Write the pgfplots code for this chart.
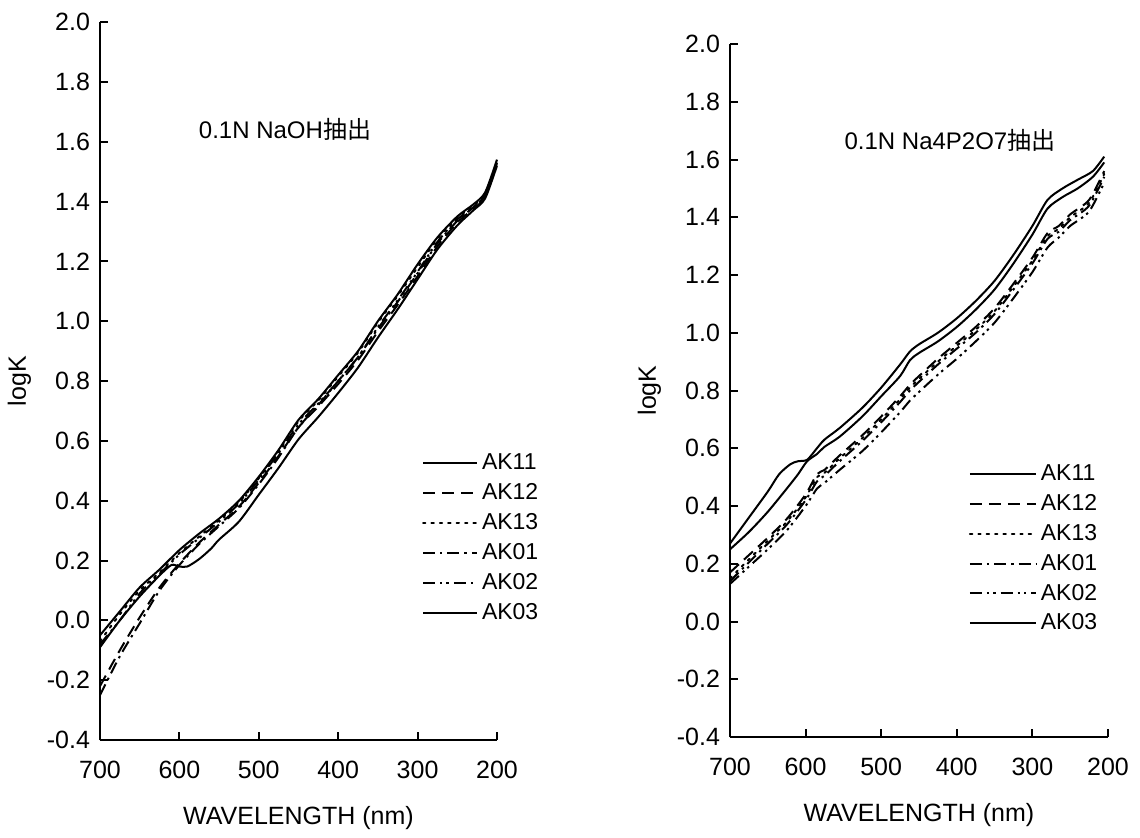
\documentclass[border=0pt]{standalone}
\usepackage{fontspec}
\setmainfont{Liberation Sans}
\newfontfamily\cjk{Noto Sans CJK JP}
\usepackage{pgfplots}
\pgfplotsset{compat=1.18}

\pgfplotsset{
  myax/.style={
    scale only axis,
    x dir=reverse, xmin=200, xmax=700, ymin=-0.4, ymax=2.0,
    xtick={200,300,400,500,600,700},
    ytick={-0.4,-0.2,0,0.2,0.4,0.6,0.8,1.0,1.2,1.4,1.6,1.8,2.0},
    axis x line*=bottom, axis y line*=left,
    axis line style={-, line width=1.4pt, black},
    tick align=inside, major tick length=4pt,
    tick style={line width=1pt, black},
    yticklabel style={font=\fontsize{12.5}{14}\selectfont, xshift=-1.5pt, /pgf/number format/.cd, fixed, fixed zerofill, precision=1, assume math mode=true},
    xticklabel style={font=\fontsize{12.5}{14}\selectfont, yshift=-7pt, /pgf/number format/.cd, assume math mode=true},
    label style={font=\fontsize{12.5}{14}\selectfont},
    xlabel={WAVELENGTH (nm)}, ylabel={logK},
    xlabel style={yshift=-7pt},
    ylabel style={yshift=1pt},
    legend cell align=left,
    legend style={draw=none, fill=none, font=\fontsize{11.5}{13}\selectfont, row sep=1.4pt},
    every axis plot/.append style={line width=1pt, black, no marks, smooth, tension=0.45},
    clip=false,
  },
  s11/.style={solid},
  s12/.style={dash pattern=on 6pt off 3.5pt},
  s13/.style={dash pattern=on 1.2pt off 3pt, line cap=round},
  s01/.style={dash pattern=on 6pt off 2.5pt on 1.2pt off 2.5pt},
  s02/.style={dash pattern=on 6pt off 2.5pt on 1.2pt off 2pt on 1.2pt off 2.5pt},
  s03/.style={solid},
}

\begin{document}
\begin{tikzpicture}
\useasboundingbox (0,0) rectangle (570pt,418.5pt);

% ---------- left panel ----------
\begin{axis}[myax,
  at={(50pt,48.5pt)}, anchor=south west,
  width=198.5pt, height=359pt,
  legend style={at={(0.795,0.41)}, anchor=north west},
  legend image code/.code={\draw[#1] (0pt,0pt) -- (27pt,0pt);},
]
\addplot[s11] coordinates {(700,-0.05) (675,0.03) (650,0.11) (625,0.17) (600,0.235) (575,0.29) (550,0.34) (525,0.40) (500,0.48) (475,0.57) (450,0.67) (425,0.74) (400,0.82) (375,0.90) (350,1.00) (325,1.09) (300,1.19) (275,1.28) (250,1.35) (230,1.39) (215,1.43) (200,1.54)};
\addlegendentry{AK11}
\addplot[s12] coordinates {(700,-0.22) (675,-0.10) (650,0.01) (625,0.11) (600,0.19) (575,0.26) (550,0.32) (525,0.38) (500,0.46) (475,0.55) (450,0.645) (425,0.715) (400,0.79) (375,0.87) (350,0.965) (325,1.055) (300,1.15) (275,1.25) (250,1.33) (230,1.375) (215,1.415) (200,1.53)};
\addlegendentry{AK12}
\addplot[s13] coordinates {(700,-0.07) (675,0.02) (650,0.10) (625,0.16) (600,0.225) (575,0.28) (550,0.335) (525,0.395) (500,0.475) (475,0.565) (450,0.665) (425,0.735) (400,0.815) (375,0.895) (350,0.995) (325,1.085) (300,1.18) (275,1.275) (250,1.345) (230,1.385) (215,1.425) (200,1.53)};
\addlegendentry{AK13}
\addplot[s01] coordinates {(700,-0.25) (675,-0.12) (650,-0.01) (625,0.10) (600,0.185) (575,0.255) (550,0.315) (525,0.375) (500,0.455) (475,0.545) (450,0.645) (425,0.72) (400,0.80) (375,0.88) (350,0.975) (325,1.065) (300,1.16) (275,1.26) (250,1.335) (230,1.38) (215,1.42) (200,1.53)};
\addlegendentry{AK01}
\addplot[s02] coordinates {(700,-0.08) (675,0.00) (650,0.09) (625,0.155) (600,0.22) (575,0.275) (550,0.33) (525,0.39) (500,0.47) (475,0.56) (450,0.655) (425,0.725) (400,0.80) (375,0.88) (350,0.98) (325,1.07) (300,1.165) (275,1.265) (250,1.34) (230,1.38) (215,1.42) (200,1.53)};
\addlegendentry{AK02}
\addplot[s03] coordinates {(700,-0.09) (675,0.00) (650,0.08) (625,0.15) (610,0.185) (600,0.18) (590,0.18) (575,0.205) (560,0.24) (550,0.27) (525,0.33) (500,0.42) (475,0.51) (450,0.605) (425,0.68) (400,0.76) (375,0.845) (350,0.945) (325,1.04) (300,1.14) (275,1.24) (250,1.32) (230,1.37) (215,1.41) (200,1.52)};
\addlegendentry{AK03}
\node[font=\fontsize{12}{14}\selectfont] at (axis cs:467,1.64) {0.1N NaOH{\cjk 抽出}};
\end{axis}

% ---------- right panel ----------
\begin{axis}[myax,
  at={(365pt,50pt)}, anchor=south west,
  width=189pt, height=346.5pt,
  legend style={at={(0.615,0.405)}, anchor=north west},
  legend image code/.code={\draw[#1] (0pt,0pt) -- (33pt,0pt);},
]
\addplot[s11] coordinates {(700,0.27) (675,0.36) (650,0.45) (635,0.51) (620,0.545) (610,0.555) (598,0.56) (585,0.60) (575,0.63) (555,0.67) (525,0.74) (500,0.81) (475,0.89) (462,0.935) (450,0.96) (425,1.00) (400,1.05) (375,1.11) (350,1.18) (325,1.27) (300,1.37) (280,1.46) (260,1.50) (240,1.53) (220,1.56) (205,1.61)};
\addlegendentry{AK11}
\addplot[s12] coordinates {(700,0.17) (675,0.23) (650,0.29) (625,0.355) (600,0.44) (585,0.51) (575,0.525) (555,0.575) (525,0.645) (500,0.71) (475,0.78) (462,0.82) (450,0.85) (425,0.91) (400,0.965) (375,1.02) (350,1.085) (325,1.17) (300,1.26) (280,1.345) (265,1.37) (250,1.41) (225,1.46) (205,1.56)};
\addlegendentry{AK12}
\addplot[s13] coordinates {(700,0.15) (675,0.215) (650,0.28) (625,0.345) (600,0.43) (585,0.50) (575,0.515) (555,0.565) (525,0.635) (500,0.70) (475,0.77) (462,0.81) (450,0.84) (425,0.90) (400,0.955) (375,1.01) (350,1.075) (325,1.16) (300,1.25) (280,1.335) (265,1.36) (250,1.40) (225,1.45) (205,1.55)};
\addlegendentry{AK13}
\addplot[s01] coordinates {(700,0.14) (675,0.205) (650,0.27) (625,0.335) (600,0.42) (585,0.485) (575,0.505) (555,0.555) (525,0.625) (500,0.69) (475,0.76) (462,0.80) (450,0.83) (425,0.89) (400,0.945) (375,1.00) (350,1.065) (325,1.15) (300,1.24) (280,1.325) (265,1.35) (250,1.39) (225,1.44) (205,1.54)};
\addlegendentry{AK01}
\addplot[s02] coordinates {(700,0.13) (675,0.19) (650,0.25) (625,0.315) (600,0.40) (585,0.46) (575,0.48) (555,0.525) (525,0.59) (500,0.655) (475,0.725) (462,0.765) (450,0.795) (425,0.855) (400,0.91) (375,0.97) (350,1.035) (325,1.12) (300,1.21) (280,1.295) (265,1.33) (250,1.37) (225,1.42) (205,1.52)};
\addlegendentry{AK02}
\addplot[s03] coordinates {(700,0.25) (675,0.31) (650,0.38) (625,0.46) (610,0.51) (598,0.555) (585,0.58) (575,0.605) (555,0.64) (525,0.71) (500,0.78) (475,0.85) (462,0.905) (450,0.93) (425,0.97) (400,1.02) (375,1.08) (350,1.15) (325,1.24) (300,1.34) (280,1.43) (260,1.47) (240,1.50) (220,1.54) (205,1.59)};
\addlegendentry{AK03}
\node[font=\fontsize{12}{14}\selectfont] at (axis cs:409,1.667) {0.1N Na4P2O7{\cjk 抽出}};
\end{axis}
\end{tikzpicture}
\end{document}
